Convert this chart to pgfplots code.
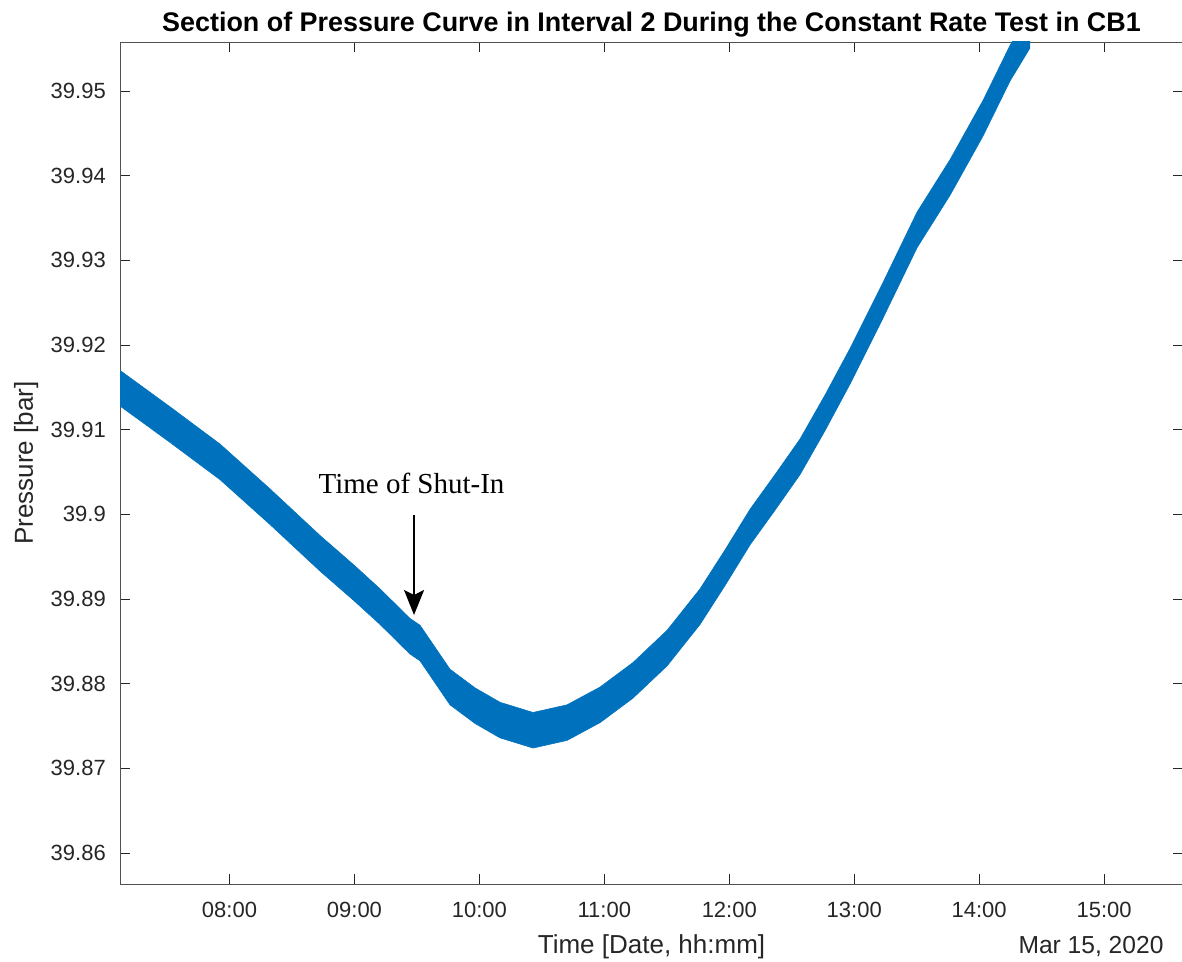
\documentclass[border=0pt]{standalone}
\usepackage{fontspec}
\setmainfont{Liberation Sans}
\newfontfamily\timesfont{Liberation Serif}
\usepackage{pgfplots}
\usepackage{pgfplotstable}
\pgfplotsset{compat=1.18}
\usepgfplotslibrary{fillbetween}
\usetikzlibrary{arrows.meta}
\definecolor{mblue}{RGB}{0,114,189}
\definecolor{axgray}{RGB}{38,38,38}

% time [h], lower and upper edge of the noisy pressure band [bar]
\pgfplotstableread{
h       lo       hi
7.1235  39.9128  39.9170
7.5237  39.9085  39.9127
7.9240  39.9041  39.9083
8.3242  39.8988  39.9030
8.7244  39.8933  39.8975
8.9966  39.8898  39.8940
9.2047  39.8870  39.8912
9.4448  39.8835  39.8877
9.5249  39.8827  39.8869
9.6449  39.8801  39.8843
9.7650  39.8775  39.8817
9.9651  39.8753  39.8795
10.1652 39.8736  39.8778
10.4294 39.8724  39.8766
10.7015 39.8733  39.8775
10.9657 39.8754  39.8796
11.2298 39.8783  39.8825
11.5020 39.8821  39.8863
11.7661 39.8870  39.8912
11.9662 39.8916  39.8958
12.1663 39.8964  39.9006
12.3665 39.9005  39.9047
12.5666 39.9047  39.9089
12.7667 39.9099  39.9141
12.9668 39.9154  39.9196
13.2310 39.9232  39.9274
13.5031 39.9315  39.9357
13.7673 39.9377  39.9419
14.0314 39.9447  39.9489
14.2476 39.9512  39.9554
14.4077 39.9551  39.9593
}\bandtable

\begin{document}
\begin{tikzpicture}
\begin{axis}[
  name=ax,
  at={(0,0)}, anchor=south west,
  scale only axis, width=1063pt, height=842pt,
  xmin=7.1235, xmax=15.632,
  ymin=39.85634, ymax=39.95579,
  xtick={8,9,10,11,12,13,14,15},
  xticklabels={08:00,09:00,10:00,11:00,12:00,13:00,14:00,15:00},
  ytick={39.86,39.87,39.88,39.89,39.9,39.91,39.92,39.93,39.94,39.95},
  yticklabels={39.86,39.87,39.88,39.89,39.9,39.91,39.92,39.93,39.94,39.95},
  tick align=inside, major tick length=10pt,
  tick style={axgray, line width=0.8pt},
  axis line style={axgray!80, line width=0.9pt},
  ticklabel style={font=\fontsize{22}{26}\selectfont, text=axgray, inner sep=0pt},
  xticklabel style={anchor=base, yshift=-33pt},
  yticklabel style={anchor=east, xshift=-14pt},
  scaled y ticks=false,
  clip=true,
]
\addplot[name path=lo, draw=mblue, line width=0.6pt] table[x=h, y=lo] {\bandtable};
\addplot[name path=hi, draw=mblue, line width=0.6pt] table[x=h, y=hi] {\bandtable};
\addplot[mblue, draw=none] fill between[of=lo and hi];

\draw[line width=2pt, -{Stealth[length=25pt, width=20pt, inset=5pt]}] (axis cs:9.4768,39.89992) -- (axis cs:9.4768,39.88811);
\node[anchor=base, font=\timesfont\fontsize{29}{34}\selectfont] at (axis cs:9.4568,39.90252) {Time of Shut-In};
\end{axis}
\node[anchor=base, font=\bfseries\fontsize{26.9}{32}\selectfont] at ([yshift=10pt]ax.north) {Section of Pressure Curve in Interval 2 During the Constant Rate Test in CB1};
\node[anchor=base, font=\fontsize{26}{31}\selectfont, text=axgray] at ([yshift=-69pt]ax.south) {Time [Date, hh:mm]};
\node[anchor=base east, font=\fontsize{24.6}{29}\selectfont, text=axgray] at ([xshift=1047pt, yshift=-69pt]ax.south west) {Mar 15, 2020};
\node[anchor=base, rotate=90, font=\fontsize{26}{31}\selectfont, text=axgray] at ([xshift=-87pt]ax.west) {Pressure [bar]};
\pgfresetboundingbox
\path[use as bounding box] (-120pt,-77pt) rectangle (1062pt,884pt);
\end{tikzpicture}
\end{document}
